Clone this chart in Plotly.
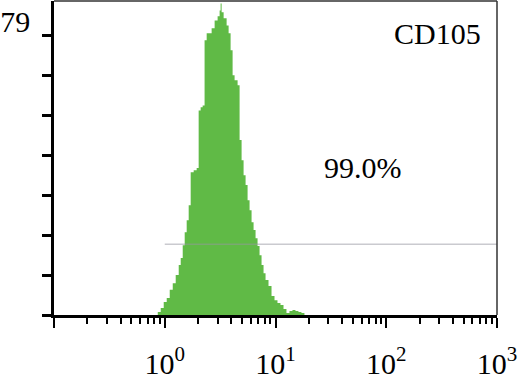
import plotly.graph_objects as go

# Histogram outline (fluorescence intensity, cell count)
intensity = [0.830, 0.865, 0.920, 0.979, 1.042, 1.109, 1.181, 1.256, 1.337, 1.394,
             1.453, 1.514, 1.578, 1.645, 1.715, 1.825, 1.942, 2.024, 2.110, 2.199,
             2.289, 2.391, 2.491, 2.651, 2.821, 3.002, 3.129, 3.195, 3.262, 3.401,
             3.619, 3.772, 3.932, 4.099, 4.272, 4.547, 4.740, 4.941, 5.150, 5.368,
             5.596, 5.833, 6.080, 6.338, 6.606, 6.886, 7.178, 7.482, 7.799, 8.129,
             8.648, 9.205, 9.795, 10.42, 11.09, 11.81, 12.56, 13.37, 14.23, 15.14,
             16.11, 17.15, 18.25]
counts = [0, 0.85, 2.0, 3.7, 4.8, 7.1, 9.0, 11.3, 14.1, 16.1,
          19.7, 23.4, 26.8, 31.0, 40.3, 40.9, 41.5, 57.8, 58.7, 59.2,
          77.6, 79.6, 79.6, 81.0, 83.2, 84.4, 86.0, 88.0, 85.5, 83.8,
          81.8, 79.6, 74.8, 67.7, 66.3, 64.9, 49.4, 43.7, 39.5, 36.7,
          32.4, 29.6, 26.2, 24.0, 21.7, 19.5, 16.9, 14.1, 11.8, 9.9,
          8.2, 5.4, 4.2, 3.4, 2.8, 1.7, 0.6, 1.1, 1.4, 1.1,
          0.85, 0.6, 0]

# Gate marker
gate_x = [1, 1000]
gate_y = [20, 20]

y_tick_vals = [0, 79/7, 2*79/7, 3*79/7, 4*79/7, 5*79/7, 6*79/7, 79]
y_tick_text = ["", "", "", "", "", "", "", "79"]

x_major = [0.1, 1, 10, 100, 1000]
x_major_text = ["", "10<sup>0</sup>", "10<sup>1</sup>", "10<sup>2</sup>", "10<sup>3</sup>"]
x_minor = [m * d for d in [0.1, 1, 10, 100] for m in range(2, 10)]

marker_label = "CD105"
percent_label = "99.0%"

FONT = "Liberation Serif"

fig = go.Figure()
fig.add_trace(go.Scatter(
    x=intensity, y=counts, mode="lines", line=dict(width=0, shape="hv"),
    fill="tozeroy", fillcolor="rgb(96,186,70)", hoverinfo="skip", showlegend=False))
fig.add_trace(go.Scatter(
    x=gate_x, y=gate_y, mode="lines",
    line=dict(color="rgba(150,150,160,0.5)", width=1.5),
    hoverinfo="skip", showlegend=False))

fig.update_layout(
    width=521, height=379,
    margin=dict(l=54, r=24, t=1, b=64, autoexpand=False),
    paper_bgcolor="white", plot_bgcolor="white",
    font=dict(family=FONT, size=30, color="black"),
    xaxis=dict(
        type="log", range=[-1, 3], automargin=False,
        tickmode="array", tickvals=x_major, ticktext=x_major_text,
        ticks="outside", ticklen=10, tickwidth=2, tickcolor="black",
        showline=True, linecolor="black", linewidth=2.5,
        showgrid=False, zeroline=False,
        tickfont=dict(family=FONT, size=30, color="black"),
        ticklabelstandoff=10,
        minor=dict(tickmode="array", tickvals=x_minor, ticks="outside",
                   ticklen=6, tickwidth=2, tickcolor="black", showgrid=False),
    ),
    yaxis=dict(
        range=[0, 88.7], automargin=False,
        tickmode="array", tickvals=y_tick_vals, ticktext=y_tick_text,
        ticks="outside", ticklen=9, tickwidth=2.5, tickcolor="black",
        showline=True, linecolor="black", linewidth=2.5,
        showgrid=False, zeroline=False,
        tickfont=dict(family=FONT, size=30, color="black"),
        ticklabelstandoff=6, ticklabelshift=-14,
    ),
    shapes=[
        dict(type="line", xref="paper", yref="paper", x0=0, x1=1, y0=1, y1=1,
             line=dict(color="#333", width=1.5)),
        dict(type="line", xref="paper", yref="paper", x0=1, x1=1, y0=0, y1=1,
             line=dict(color="#333", width=1.5)),
    ],
    annotations=[
        dict(text=marker_label, xref="paper", yref="paper", x=0.968, y=0.898,
             xanchor="right", yanchor="middle", showarrow=False,
             font=dict(family=FONT, size=30, color="black")),
        dict(text=percent_label, xref="paper", yref="paper", x=0.605, y=0.471,
             xanchor="left", yanchor="middle", showarrow=False,
             font=dict(family=FONT, size=30, color="black")),
    ],
)

fig.write_html("out.html", config={"displayModeBar": False},
               post_script="document.body.style.margin='0';document.body.style.overflow='hidden';")
